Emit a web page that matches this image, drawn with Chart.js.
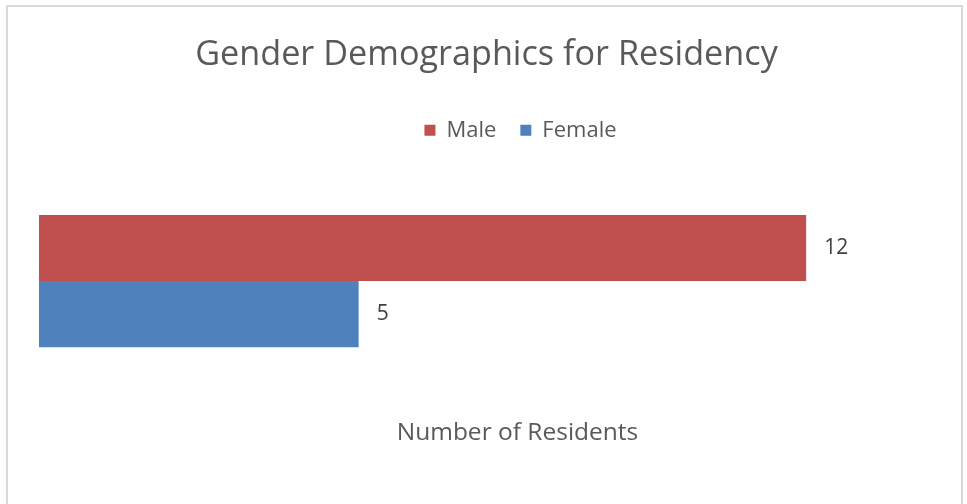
<!DOCTYPE html>
<html>
<head>
<meta charset="utf-8">
<script src="https://cdn.jsdelivr.net/npm/chart.js@4/dist/chart.umd.min.js"></script>
<style>
  html, body { margin: 0; padding: 0; background: #fff; }
  #wrap { position: relative; width: 967px; height: 504px; overflow: hidden; }
  #frame { position: absolute; left: 6px; top: 5px; width: 957px; height: 520px; border: 2px solid #d9d9d9; box-sizing: border-box; pointer-events: none; }
  canvas { position: absolute; left: 0; top: 0; }
</style>
</head>
<body>
<div id="wrap">
  <canvas id="c" width="967" height="504"></canvas>
  <div id="frame"></div>
</div>
<script>
const categories = ["Number of Residents"];
const seriesNames = ["Male", "Female"];
const maleValues = [12];
const femaleValues = [5];
const seriesColors = ["#C0504D", "#4F81BD"];
const axisTitle = "Number of Residents";

const FONT = "'Open Sans', 'Noto Sans', sans-serif";
const TEXT = "#595959";

// Draws value labels at the end of each bar.
const valueLabels = {
  id: 'valueLabels',
  afterDatasetsDraw(chart) {
    const ctx = chart.ctx;
    ctx.save();
    ctx.font = "21px " + FONT;
    ctx.fillStyle = "#404040";
    ctx.textAlign = "left";
    ctx.textBaseline = "middle";
    chart.data.datasets.forEach((ds, i) => {
      const meta = chart.getDatasetMeta(i);
      meta.data.forEach((bar, j) => {
        ctx.fillText(String(ds.data[j]), bar.x + 18, bar.y);
      });
    });
    ctx.restore();
  }
};

// Legend and horizontal-axis title sit a little right of centre, as in the original.
const offsetBlocks = {
  id: 'offsetBlocks',
  afterLayout(chart) {
    if (chart.legend) { chart.legend.left += 34; chart.legend.right += 34; }
  },
  afterDraw(chart) {
    const ctx = chart.ctx;
    const a = chart.chartArea;
    ctx.save();
    ctx.font = "24.5px " + FONT;
    ctx.fillStyle = TEXT;
    ctx.textAlign = "center";
    ctx.textBaseline = "middle";
    ctx.fillText(axisTitle, (a.left + a.right) / 2 + 31, a.bottom + 22);
    ctx.restore();
  }
};

new Chart(document.getElementById('c'), {
  type: 'bar',
  data: {
    labels: categories,
    datasets: [
      { label: seriesNames[0], data: maleValues, backgroundColor: seriesColors[0], categoryPercentage: 0.51, barPercentage: 1.0 },
      { label: seriesNames[1], data: femaleValues, backgroundColor: seriesColors[1], categoryPercentage: 0.51, barPercentage: 1.0 }
    ]
  },
  options: {
    indexAxis: 'y',
    responsive: false,
    animation: false,
    layout: { padding: { left: 39, right: 33, top: 0, bottom: 93 } },
    plugins: {
      title: {
        display: true,
        text: "Gender Demographics for Residency",
        color: TEXT,
        font: { family: FONT, size: 34.2, weight: 'normal' },
        padding: { top: 34.6, bottom: 19.6 }
      },
      legend: {
        display: true,
        position: 'top',
        labels: {
          color: TEXT,
          font: { family: FONT, size: 22 },
          boxWidth: 11,
          boxHeight: 11,
          padding: 24
        }
      },
      tooltip: { enabled: false }
    },
    scales: {
      x: {
        display: false,
        min: 0,
        max: 14,
        grid: { display: false }
      },
      y: {
        display: false,
        grid: { display: false }
      }
    }
  },
  plugins: [valueLabels, offsetBlocks]
});
</script>
</body>
</html>
